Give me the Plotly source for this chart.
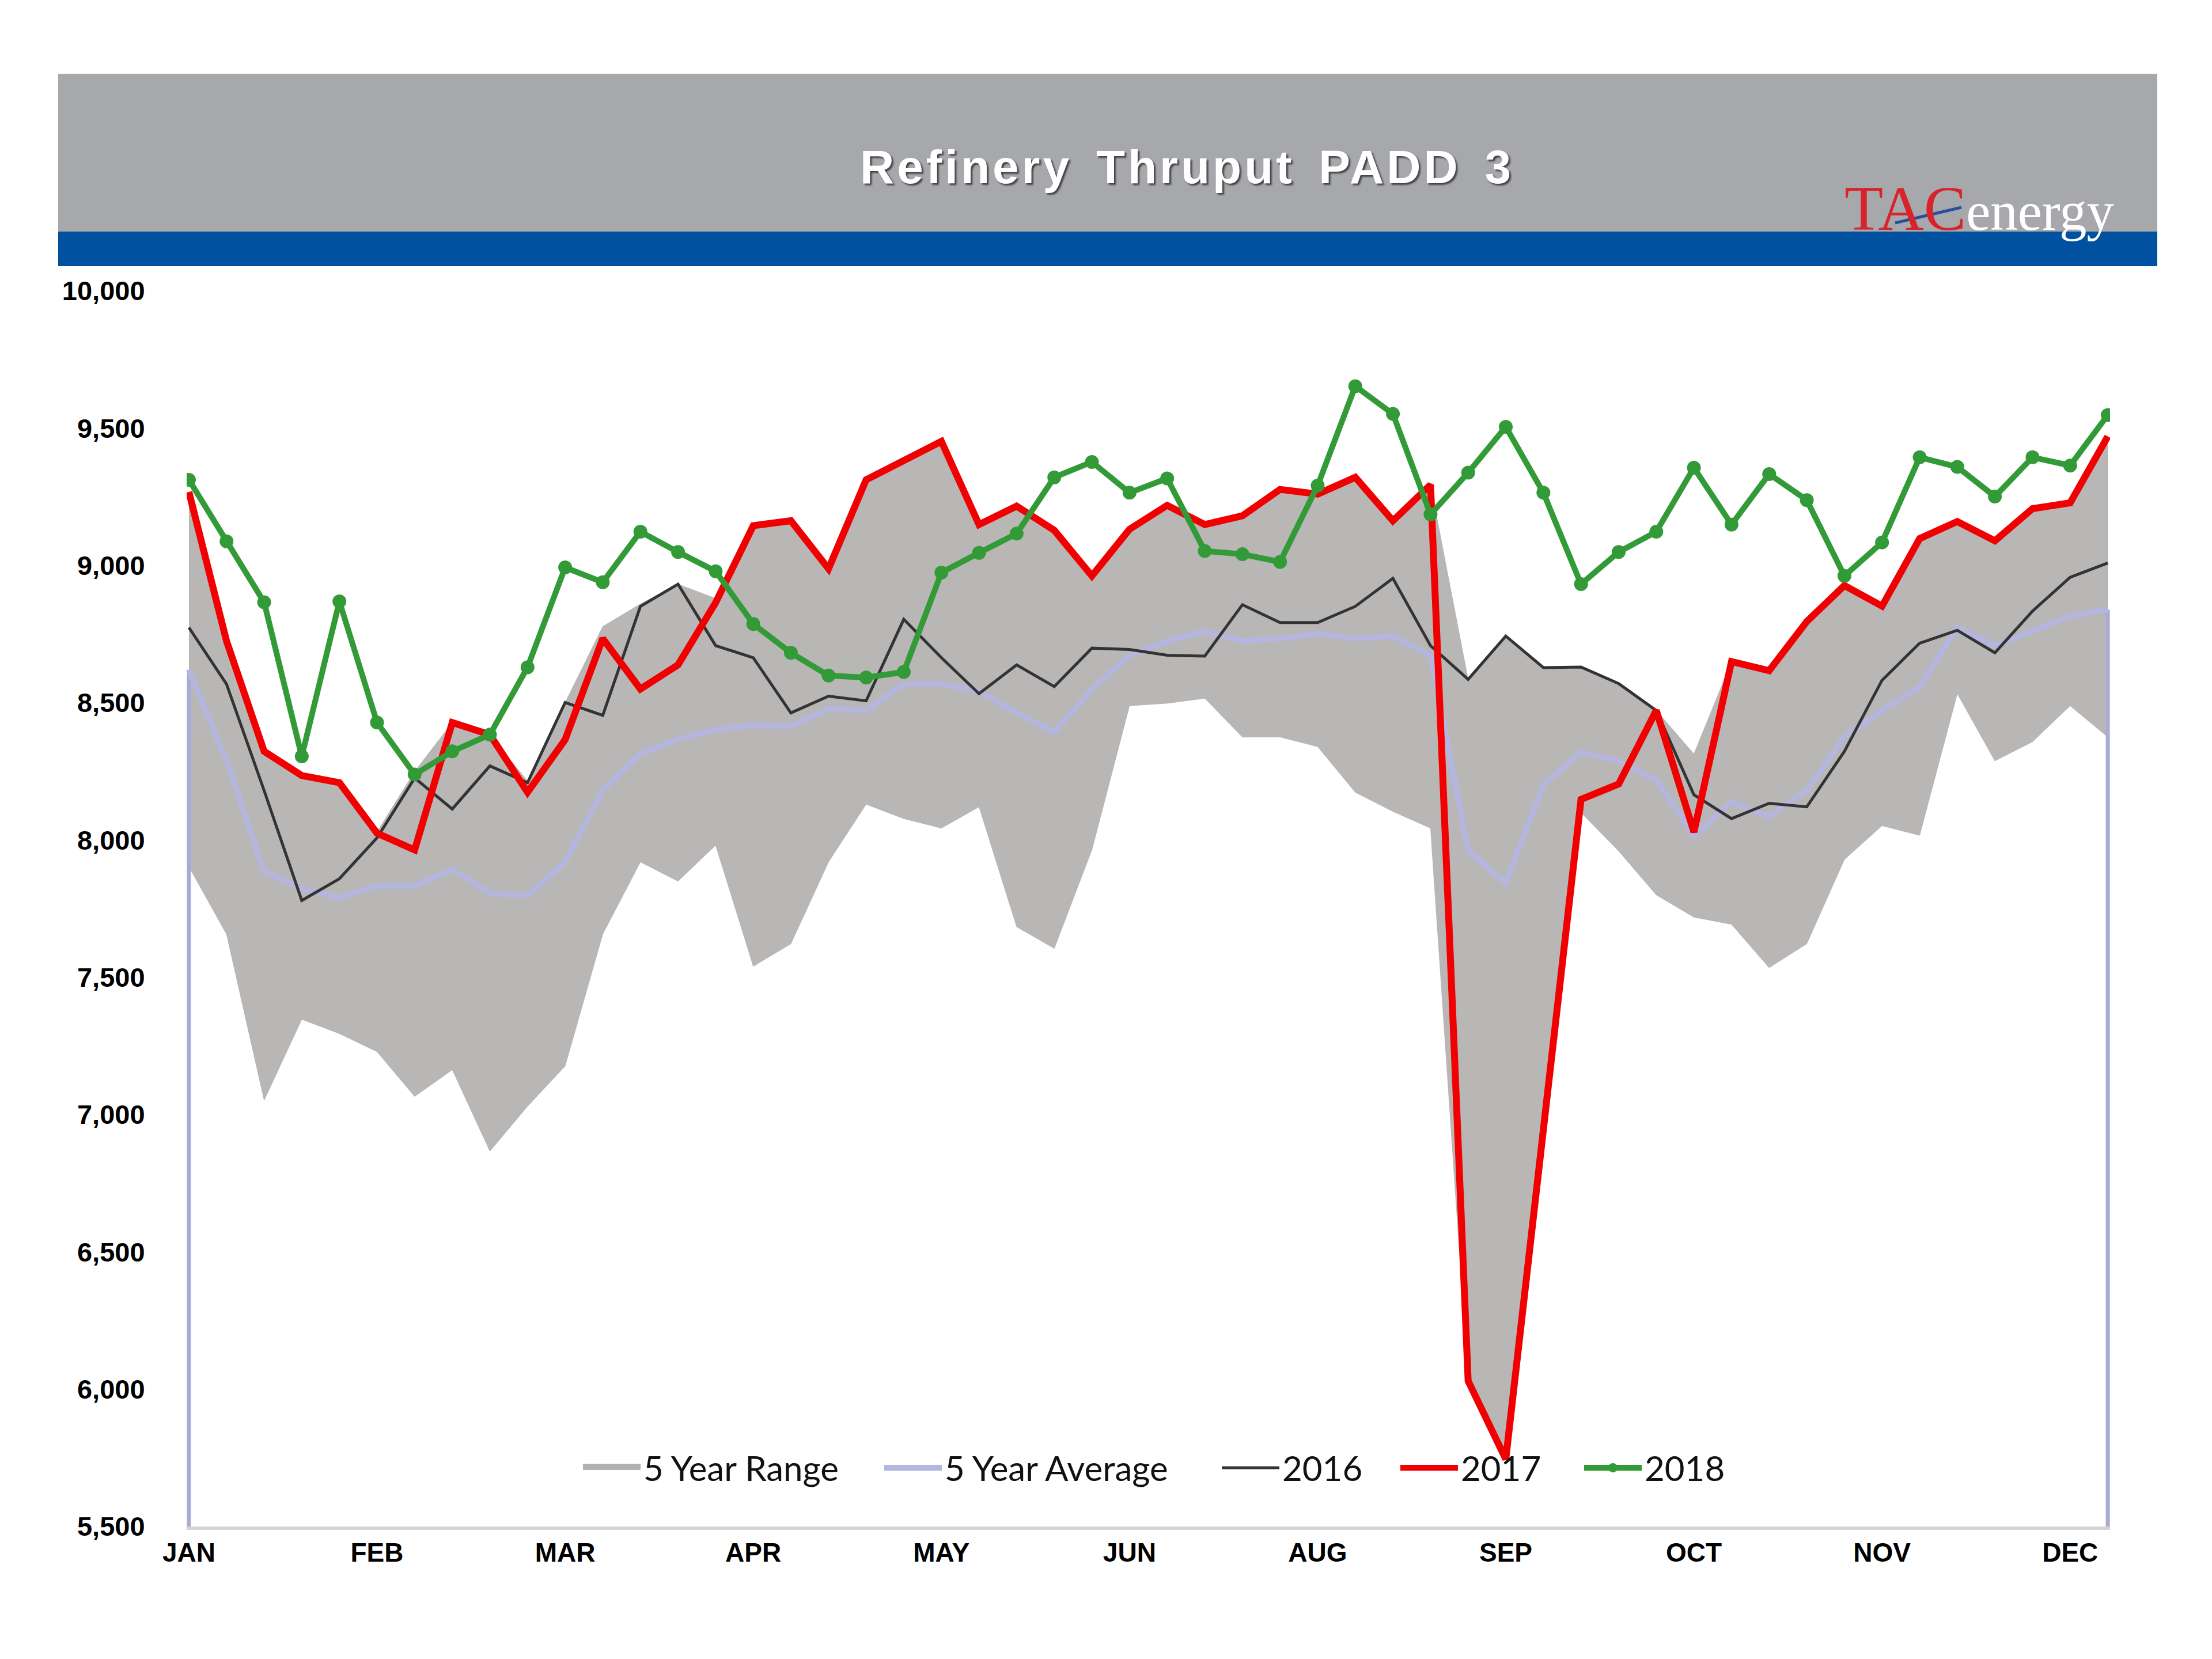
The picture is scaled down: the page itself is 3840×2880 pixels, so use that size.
import plotly.graph_objects as go

# ---------------- data ----------------
weeks = list(range(1, 53))
month_labels = ["JAN", "FEB", "MAR", "APR", "MAY", "JUN", "AUG", "SEP", "OCT", "NOV", "DEC"]
y_ticks = [5500, 6000, 6500, 7000, 7500, 8000, 8500, 9000, 9500, 10000]

range_low = [7903, 7657, 7052, 7347, 7295, 7229, 7066, 7163, 6867, 7030,
             7177, 7657, 7920, 7850, 7981, 7540, 7622, 7920, 8130, 8078,
             8043, 8121, 7684, 7605, 7964, 8489, 8498, 8516, 8375, 8375,
             8340, 8174, 8104, 8043, 6030, 5745, 6950, 8100, 7960, 7800,
             7719, 7693, 7535, 7622, 7929, 8052, 8017, 8533, 8288, 8358,
             8489, 8375]
range_high = [9268, 8725, 8323, 8235, 8209, 8030, 8250, 8428, 8384, 8215,
              8501, 8778, 8860, 8932, 8880, 9145, 9163, 8988, 9312, 9382,
              9452, 9149, 9216, 9128, 8962, 9132, 9219, 9149, 9181, 9277,
              9260, 9321, 9163, 9294, 8585, 8743, 8628, 8630, 8570, 8472,
              8314, 8650, 8617, 8796, 8927, 8852, 9098, 9160, 9090, 9207,
              9228, 9470]
avg5 = [8620, 8288, 7885, 7824, 7789, 7833, 7833, 7894, 7806, 7798,
        7920, 8183, 8314, 8367, 8402, 8419, 8414, 8480, 8472, 8568,
        8568, 8542, 8463, 8393, 8550, 8673, 8725, 8760, 8725, 8734,
        8752, 8734, 8743, 8673, 7960, 7845, 8200, 8320, 8288, 8218,
        8016, 8139, 8086, 8183, 8375, 8472, 8559, 8774, 8708, 8760,
        8816, 8839]
y2016 = [8774, 8568, 8180, 7780, 7859, 8008, 8226, 8113, 8270, 8209,
         8501, 8454, 8851, 8932, 8708, 8664, 8463, 8524, 8507, 8804,
         8664, 8533, 8638, 8559, 8699, 8694, 8673, 8670, 8857, 8792,
         8792, 8851, 8953, 8708, 8585, 8743, 8628, 8630, 8570, 8472,
         8165, 8078, 8134, 8121, 8323, 8582, 8717, 8764, 8682, 8834,
         8957, 9009]
y2017 = [9268, 8725, 8323, 8235, 8209, 8025, 7964, 8428, 8384, 8174,
         8366, 8734, 8550, 8638, 8865, 9145, 9163, 8988, 9312, 9382,
         9452, 9149, 9216, 9128, 8962, 9132, 9219, 9149, 9181, 9277,
         9260, 9321, 9163, 9294, 6030, 5745, 6950, 8148, 8204, 8472,
         8029, 8650, 8617, 8796, 8927, 8852, 9098, 9160, 9090, 9207,
         9228, 9470]
y2018 = [9312, 9088, 8866, 8305, 8869, 8428, 8239, 8323, 8384, 8629,
         8993, 8939, 9123, 9049, 8979, 8787, 8682, 8599, 8592, 8612,
         8974, 9046, 9116, 9321, 9377, 9265, 9317, 9053, 9041, 9013,
         9291, 9653, 9552, 9186, 9338, 9505, 9265, 8932, 9049, 9123,
         9356, 9149, 9333, 9238, 8962, 9084, 9394, 9359, 9251, 9394,
         9364, 9548]

# ---------------- layout geometry (page pixels) ----------------
W, H = 3840, 2880
OFF = 8                      # default body margin of the page
L, R, T, B = 316, 185, 497, 238
PW, PH = W - L - R, H - T - B


def px(x):
    return (x - OFF - L) / PW


def py(y):
    return (H - B - (y - OFF)) / PH


fig = go.Figure()

# 5 year range (filled band between the low and high series)
fig.add_trace(go.Scatter(x=weeks + weeks[::-1], y=range_high + range_low[::-1],
                         mode="lines", fill="toself", fillcolor="#B9B6B6",
                         line=dict(width=0.6, color="#A9A6A6"),
                         showlegend=False, hoverinfo="skip"))
# legend entry for the range
fig.add_trace(go.Scatter(x=[None], y=[None], mode="lines", name="5 Year Range",
                         fill="toself", fillcolor="#B9B6B6", legend="legend",
                         line=dict(width=10, color="#B3B0B0")))

# drop lines of the average series at both ends
y0 = y_ticks[0]
fig.add_trace(go.Scatter(x=[weeks[0], weeks[0]], y=[y0, avg5[0]], mode="lines",
                         line=dict(color="#A9ABD6", width=7),
                         showlegend=False, hoverinfo="skip"))
fig.add_trace(go.Scatter(x=[weeks[-1], weeks[-1]], y=[y0, avg5[-1]], mode="lines",
                         line=dict(color="#A9ABD6", width=7),
                         showlegend=False, hoverinfo="skip"))

fig.add_trace(go.Scatter(x=weeks, y=avg5, mode="lines", name="5 Year Average",
                         legend="legend2", line=dict(color="#B4B6DE", width=10)))
fig.add_trace(go.Scatter(x=weeks, y=y2016, mode="lines", name="2016",
                         legend="legend3", line=dict(color="#333333", width=5)))
fig.add_trace(go.Scatter(x=weeks, y=y2017, mode="lines", name="2017",
                         legend="legend4", line=dict(color="#F00000", width=12)))
fig.add_trace(go.Scatter(x=weeks, y=y2018, mode="lines+markers", name="2018",
                         legend="legend5", line=dict(color="#339A38", width=10),
                         marker=dict(color="#339A38", size=24)))

shapes = [
    # grey header band
    dict(type="rect", xref="paper", yref="paper",
         x0=px(101), x1=px(3745), y0=py(402), y1=py(128),
         fillcolor="#A7A8AC", line=dict(width=0), layer="above"),
    # blue band
    dict(type="rect", xref="paper", yref="paper",
         x0=px(101), x1=px(3745), y0=py(462), y1=py(402),
         fillcolor="#0052A0", line=dict(width=0), layer="above"),
    # logo swoosh
    dict(type="line", xref="paper", yref="paper",
         x0=px(3290), y0=py(387), x1=px(3405), y1=py(360),
         line=dict(color="#2A4E9C", width=5), layer="above"),
]

annotations = [
    dict(text="<span style='letter-spacing:5px;word-spacing:14px'><b>Refinery Thruput PADD 3</b></span>",
         xref="paper", yref="paper",
         x=px(2060), y=py(290), xanchor="center", yanchor="middle", showarrow=False,
         font=dict(family="Liberation Sans, Arial", size=82, color="white",
                   shadow="3px 3px 3px rgba(40,40,40,0.8)")),
    dict(text="<span style='color:#D8232A;font-size:110px'>TAC</span>"
              "<span style='color:#FFFFFF;font-size:95px'>energy</span>",
         xref="paper", yref="paper", x=px(3436), y=py(424),
         xanchor="center", yanchor="bottom", showarrow=False, borderpad=0,
         font=dict(family="Liberation Serif, Times New Roman", size=95, color="white")),
]

legend_font = dict(family="Lato", size=60, color="#111111")
legend_y = py(2548)


def make_legend(xpage):
    return dict(orientation="h", x=px(xpage), y=legend_y, xanchor="left", yanchor="middle",
                bgcolor="rgba(0,0,0,0)", font=legend_font, itemwidth=100,
                borderwidth=0)


fig.update_layout(
    width=W, height=H,
    margin=dict(l=L, r=R, t=T, b=B, pad=0),
    paper_bgcolor="white", plot_bgcolor="white",
    shapes=shapes, annotations=annotations,
    showlegend=True,
    legend=make_legend(1007),
    legend2=make_legend(1530),
    legend3=make_legend(2116),
    legend4=make_legend(2426),
    legend5=make_legend(2745),
    xaxis=dict(range=[weeks[0] - 0.06, weeks[-1] + 0.06], tickvals=weeks[0::5], ticktext=month_labels,
               showgrid=False, zeroline=False, showline=True, linecolor="#D4D4D4", linewidth=6,
               ticks="",
               tickfont=dict(family="Liberation Sans, Arial", size=46, color="black", weight="bold")),
    yaxis=dict(range=[y_ticks[0], y_ticks[-1]], tickvals=y_ticks, tickformat=",d",
               showgrid=False, zeroline=False, showline=False,
               ticks="outside", ticklen=62, tickcolor="rgba(0,0,0,0)",
               tickfont=dict(family="Liberation Sans, Arial", size=47, color="black", weight="bold")),
)

fig.write_html("out.html")
